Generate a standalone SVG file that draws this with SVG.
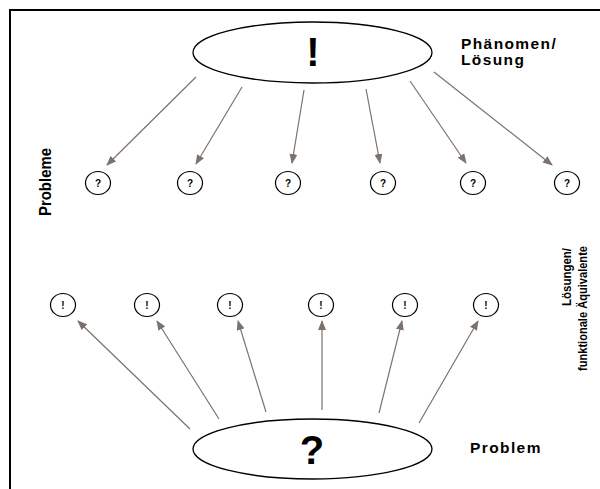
<svg xmlns="http://www.w3.org/2000/svg" width="600" height="489" viewBox="0 0 600 489">
<defs>
<marker id="ah" markerWidth="10" markerHeight="8" refX="9" refY="4" orient="auto" markerUnits="userSpaceOnUse">
<path d="M0,0 L10,4 L0,8 Z" fill="#7d716b"/>
</marker>
<style>
.frame{fill:none;stroke:#000;stroke-width:2}
.big{fill:#fff;stroke:#000;stroke-width:1.3}
.small{fill:#fff;stroke:#000;stroke-width:1.2}
.c{stroke:#7d716b;stroke-width:1.2;fill:none;marker-end:url(#ah)}
.bigt{font-family:"Liberation Sans",Arial,sans-serif;font-weight:bold;font-size:40px;text-anchor:middle}
.st{font-family:"Liberation Sans",Arial,sans-serif;font-weight:bold;font-size:10px;text-anchor:middle}
.lab{font-family:"Liberation Sans",Arial,sans-serif;font-weight:bold;font-size:15.5px;letter-spacing:1.4px}
.vl{font-family:"Liberation Sans",Arial,sans-serif;font-size:16px;font-weight:bold}
.vl2{font-family:"Liberation Sans",Arial,sans-serif;font-size:13.5px;font-weight:bold}
</style>
</defs>
<rect width="600" height="489" fill="#fff"/>
<path class="frame" d="M10,489 L10,10 L600,10"/>
<g id="connectors">
<line class="c" x1="196" y1="77" x2="107" y2="165"/>
<line class="c" x1="242" y1="87" x2="196" y2="164"/>
<line class="c" x1="304" y1="90" x2="292" y2="163"/>
<line class="c" x1="366" y1="89" x2="380" y2="163"/>
<line class="c" x1="410" y1="81" x2="466" y2="163"/>
<line class="c" x1="434" y1="72" x2="552" y2="165"/>
<line class="c" x1="190" y1="429" x2="78" y2="321"/>
<line class="c" x1="219" y1="419" x2="157" y2="321"/>
<line class="c" x1="266" y1="412" x2="238" y2="321"/>
<line class="c" x1="322" y1="410" x2="322" y2="321"/>
<line class="c" x1="379" y1="413" x2="402" y2="321"/>
<line class="c" x1="419" y1="423" x2="478" y2="321"/>
</g>
<g id="phaenomen">
<ellipse class="big" cx="312.5" cy="52.5" rx="119.5" ry="30.5"/>
<text class="bigt" x="313" y="66">!</text>
</g>
<g id="problem">
<ellipse class="big" cx="312.5" cy="449" rx="119.5" ry="30"/>
<text class="bigt" x="312" y="464">?</text>
</g>
<g id="q1"><ellipse class="small" cx="98" cy="183" rx="12.5" ry="11.5"/><text class="st" x="98" y="187">?</text></g>
<g id="q2"><ellipse class="small" cx="190" cy="183" rx="12.5" ry="11.5"/><text class="st" x="190" y="187">?</text></g>
<g id="q3"><ellipse class="small" cx="288" cy="183" rx="12.5" ry="11.5"/><text class="st" x="288" y="187">?</text></g>
<g id="q4"><ellipse class="small" cx="383" cy="183" rx="12.5" ry="11.5"/><text class="st" x="383" y="187">?</text></g>
<g id="q5"><ellipse class="small" cx="473" cy="183" rx="12.5" ry="11.5"/><text class="st" x="473" y="187">?</text></g>
<g id="q6"><ellipse class="small" cx="567" cy="183" rx="12.5" ry="11.5"/><text class="st" x="567" y="187">?</text></g>
<g id="e1"><ellipse class="small" cx="63" cy="305" rx="12.5" ry="11.5"/><text class="st" x="63" y="309">!</text></g>
<g id="e2"><ellipse class="small" cx="147" cy="305" rx="12.5" ry="11.5"/><text class="st" x="147" y="309">!</text></g>
<g id="e3"><ellipse class="small" cx="230" cy="305" rx="12.5" ry="11.5"/><text class="st" x="230" y="309">!</text></g>
<g id="e4"><ellipse class="small" cx="321" cy="305" rx="12.5" ry="11.5"/><text class="st" x="321" y="309">!</text></g>
<g id="e5"><ellipse class="small" cx="405" cy="305" rx="12.5" ry="11.5"/><text class="st" x="405" y="309">!</text></g>
<g id="e6"><ellipse class="small" cx="486" cy="305" rx="12.5" ry="11.5"/><text class="st" x="486" y="309">!</text></g>
<g id="labels">
<text class="lab" x="461" y="49">Phänomen/</text>
<text class="lab" x="461" y="65">Lösung</text>
<text class="lab" x="470" y="453">Problem</text>
<text class="vl" transform="translate(51,182) rotate(-90)" text-anchor="middle" textLength="68" lengthAdjust="spacingAndGlyphs">Probleme</text>
<text class="vl2" transform="translate(571,248) rotate(-90)" text-anchor="end" textLength="58" lengthAdjust="spacingAndGlyphs">Lösungen/</text>
<text class="vl2" transform="translate(587,246) rotate(-90)" text-anchor="end" textLength="125" lengthAdjust="spacingAndGlyphs">funktionale Äquivalente</text>
</g>
</svg>
